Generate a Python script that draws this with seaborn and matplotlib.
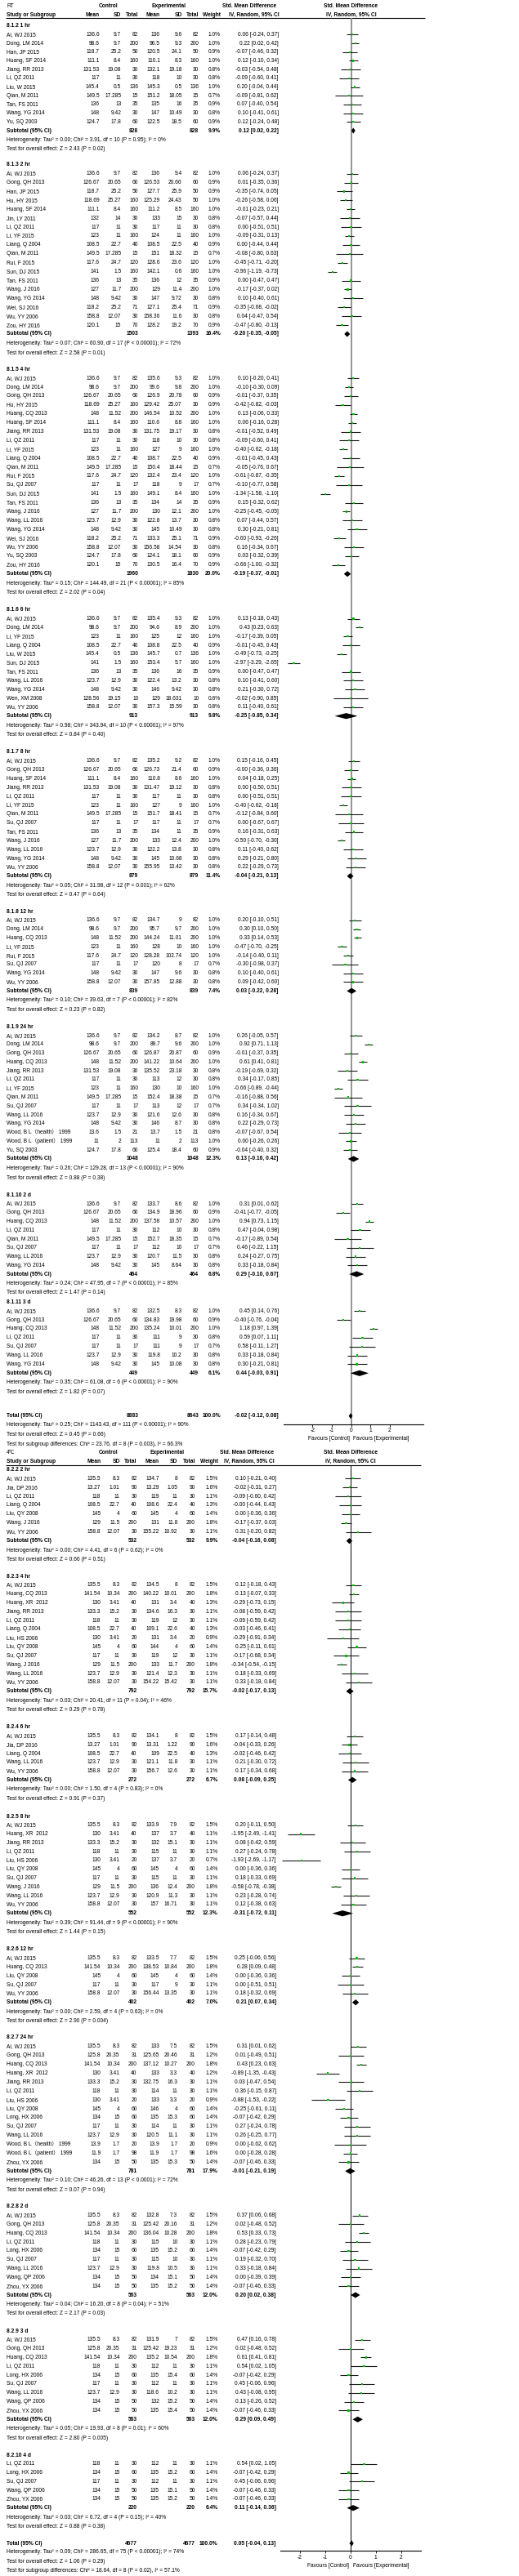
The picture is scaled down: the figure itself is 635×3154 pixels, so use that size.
import matplotlib
matplotlib.use("Agg")
import matplotlib.pyplot as plt
import seaborn as sns
import pandas as pd
from matplotlib import font_manager

# Style
sns.set_style("white")
names = {f.name for f in font_manager.fontManager.ttflist}
if "Liberation Sans Narrow" in names:
    base_font = "Liberation Sans Narrow"
else:
    base_font = "Liberation Sans"
plt.rcParams["font.family"] = [base_font, "Noto Sans CJK SC", "DejaVu Sans"]
plt.rcParams["axes.unicode_minus"] = False

### RT data (one inner list per subgroup) ###
rt_groups = ["8.1.2 1 hr", "8.1.3 2 hr", "8.1.5 4 hr", "8.1.6 6 hr", "8.1.7 8 hr",
             "8.1.8 12 hr", "8.1.9 24 hr", "8.1.10 2 d", "8.1.11 3 d"]
rt_study = [
    ["Ai, WJ 2015", "Dong, LM 2014", "Han, JP 2015", "Huang, SF 2014", "Jiang, RR 2013", "Li, QZ 2011",
     "Liu, W 2015", "Qian, M 2011", "Tan, FS 2011", "Wang, YG 2014", "Yu, SQ 2003"],
    ["Ai, WJ 2015", "Gong, QH 2013", "Han, JP 2015", "Hu, HY 2015", "Huang, SF 2014", "Jin, LY 2011",
     "Li, QZ 2011", "Li, YF 2015", "Liang, Q 2004", "Qian, M 2011", "Rui, F 2015", "Sun, DJ 2015",
     "Tan, FS 2011", "Wang, J 2016", "Wang, YG 2014", "Wei, SJ 2016", "Wu, YY 2006", "Zou, HY 2016"],
    ["Ai, WJ 2015", "Dong, LM 2014", "Gong, QH 2013", "Hu, HY 2015", "Huang, CQ 2013", "Huang, SF 2014",
     "Jiang, RR 2013", "Li, QZ 2011", "Li, YF 2015", "Liang, Q 2004", "Qian, M 2011", "Rui, F 2015",
     "Su, QJ 2007", "Sun, DJ 2015", "Tan, FS 2011", "Wang, J 2016", "Wang, LL 2016", "Wang, YG 2014",
     "Wei, SJ 2016", "Wu, YY 2006", "Yu, SQ 2003", "Zou, HY 2016"],
    ["Ai, WJ 2015", "Dong, LM 2014", "Li, YF 2015", "Liang, Q 2004", "Liu, W 2015", "Sun, DJ 2015",
     "Tan, FS 2011", "Wang, LL 2016", "Wang, YG 2014", "Wen, XM 2008", "Wu, YY 2006"],
    ["Ai, WJ 2015", "Gong, QH 2013", "Huang, SF 2014", "Jiang, RR 2013", "Li, QZ 2011", "Li, YF 2015",
     "Qian, M 2011", "Su, QJ 2007", "Tan, FS 2011", "Wang, J 2016", "Wang, LL 2016", "Wang, YG 2014",
     "Wu, YY 2006"],
    ["Ai, WJ 2015", "Dong, LM 2014", "Huang, CQ 2013", "Li, YF 2015", "Rui, F 2015", "Su, QJ 2007",
     "Wang, YG 2014", "Wu, YY 2006"],
    ["Ai, WJ 2015", "Dong, LM 2014", "Gong, QH 2013", "Huang, CQ 2013", "Jiang, RR 2013", "Li, QZ 2011",
     "Li, YF 2015", "Qian, M 2011", "Su, QJ 2007", "Wang, LL 2016", "Wang, YG 2014",
     "Wood, B L（health） 1999", "Wood, B L（patient） 1999", "Yu, SQ 2003"],
    ["Ai, WJ 2015", "Gong, QH 2013", "Huang, CQ 2013", "Li, QZ 2011", "Qian, M 2011", "Su, QJ 2007",
     "Wang, LL 2016", "Wang, YG 2014"],
    ["Ai, WJ 2015", "Gong, QH 2013", "Huang, CQ 2013", "Li, QZ 2011", "Su, QJ 2007", "Wang, LL 2016",
     "Wang, YG 2014"],
]
rt_c_mean = [
    [136.6, 98.6, 118.7, 111.1, 131.53, 117, 145.4, 149.5, 136, 148, 124.7],
    [136.6, 126.67, 118.7, 118.69, 111.1, 132, 117, 123, 108.5, 149.5, 117.6, 141, 136, 127, 148, 118.2, 158.8, 120.1],
    [136.6, 98.6, 126.67, 118.69, 148, 111.1, 131.53, 117, 123, 108.5, 149.5, 117.6, 117, 141, 136, 127, 123.7, 148, 118.2, 158.8, 124.7, 120.1],
    [136.6, 98.6, 123, 108.5, 145.4, 141, 136, 123.7, 148, 128.56, 158.8],
    [136.6, 126.67, 111.1, 131.53, 117, 123, 149.5, 117, 136, 127, 123.7, 148, 158.8],
    [136.6, 98.6, 148, 123, 117.6, 117, 148, 158.8],
    [136.6, 98.6, 126.67, 148, 131.53, 117, 123, 149.5, 117, 123.7, 148, 13.6, 11, 124.7],
    [136.6, 126.67, 148, 117, 149.5, 117, 123.7, 148],
    [136.6, 126.67, 148, 117, 117, 123.7, 148],
]
rt_c_sd = [
    [9.7, 9.7, 25.2, 8.4, 19.08, 11, 0.5, 17.285, 13, 9.42, 17.8],
    [9.7, 20.65, 25.2, 25.27, 8.4, 14, 11, 11, 22.7, 17.285, 24.7, 1.5, 13, 11.7, 9.42, 25.2, 12.07, 15],
    [9.7, 9.7, 20.65, 25.27, 11.52, 8.4, 19.08, 11, 11, 22.7, 17.285, 24.7, 11, 1.5, 13, 11.7, 12.9, 9.42, 25.2, 12.07, 17.8, 15],
    [9.7, 9.7, 11, 22.7, 0.5, 1.5, 13, 12.9, 9.42, 19.15, 12.07],
    [9.7, 20.65, 8.4, 19.08, 11, 11, 17.285, 11, 13, 11.7, 12.9, 9.42, 12.07],
    [9.7, 9.7, 11.52, 11, 24.7, 11, 9.42, 12.07],
    [9.7, 9.7, 20.65, 11.52, 19.08, 11, 11, 17.285, 11, 12.9, 9.42, 1.5, 2, 17.8],
    [9.7, 20.65, 11.52, 11, 17.285, 11, 12.9, 9.42],
    [9.7, 20.65, 11.52, 11, 11, 12.9, 9.42],
]
rt_c_n = [
    [82, 200, 50, 160, 30, 30, 136, 15, 35, 30, 60],
    [82, 60, 50, 160, 160, 30, 30, 160, 40, 15, 120, 160, 35, 200, 30, 71, 30, 70],
    [82, 200, 60, 160, 200, 160, 30, 30, 160, 40, 15, 120, 17, 160, 35, 200, 30, 30, 71, 30, 60, 70],
    [82, 200, 160, 40, 136, 160, 35, 30, 30, 10, 30],
    [82, 60, 160, 30, 30, 160, 15, 17, 35, 200, 30, 30, 30],
    [82, 200, 200, 160, 120, 17, 30, 30],
    [82, 200, 60, 200, 30, 30, 160, 15, 17, 30, 30, 21, 113, 60],
    [82, 60, 200, 30, 15, 17, 30, 30],
    [82, 60, 200, 30, 17, 30, 30],
]
rt_e_mean = [
    [136, 96.5, 120.5, 110.1, 132.1, 118, 145.3, 151.2, 135, 147, 122.5],
    [136, 126.53, 127.7, 125.29, 111.2, 133, 117, 124, 108.5, 151, 128.6, 142.1, 136, 129, 147, 127.1, 158.36, 128.2],
    [135.6, 99.6, 126.9, 129.42, 146.54, 110.6, 131.75, 118, 127, 108.7, 150.4, 132.4, 118, 149.1, 134, 130, 122.8, 145, 133.3, 156.58, 124.1, 130.5],
    [135.4, 94.6, 125, 108.8, 145.7, 153.4, 136, 122.4, 146, 129, 157.3],
    [135.2, 126.73, 110.8, 131.47, 117, 127, 151.7, 117, 134, 133, 122.2, 145, 155.95],
    [134.7, 95.7, 144.24, 128, 128.28, 120, 147, 157.85],
    [134.2, 89.7, 126.87, 141.22, 135.52, 113, 130, 152.4, 113, 121.6, 146, 13.7, 11, 125.4],
    [133.7, 134.9, 137.58, 112, 152.7, 112, 120.7, 145],
    [132.5, 134.83, 135.24, 111, 111, 119.8, 145],
]
rt_e_sd = [
    [9.6, 9.3, 24.1, 8.3, 19.18, 10, 0.5, 18.05, 16, 10.49, 18.5],
    [9.4, 20.66, 25.9, 24.43, 8.5, 15, 11, 11, 22.5, 18.32, 23.6, 0.6, 12, 11.4, 9.72, 25.4, 11.6, 19.2],
    [9.3, 9.8, 20.78, 25.07, 10.52, 8.8, 19.17, 10, 9, 22.5, 18.44, 23.4, 9, 8.4, 14, 12.1, 13.7, 10.49, 25.1, 14.54, 18.1, 16.4],
    [9.3, 8.9, 12, 22.5, 0.7, 5.7, 16, 13.2, 9.42, 18.631, 15.59],
    [9.2, 21.4, 8.6, 19.12, 11, 9, 18.41, 11, 11, 12.4, 13.8, 10.68, 13.42],
    [9, 9.7, 11.01, 10, 102.74, 8, 9.6, 12.88],
    [8.7, 9.6, 20.87, 10.64, 23.18, 12, 10, 18.38, 12, 12.6, 8.7, 1.5, 2, 18.4],
    [8.6, 18.96, 10.57, 10, 18.35, 10, 11.5, 8.64],
    [8.3, 19.98, 10.01, 9, 9, 10.2, 10.08],
]
rt_e_n = [
    [82, 200, 50, 160, 30, 30, 136, 15, 35, 30, 60],
    [82, 60, 50, 50, 160, 30, 30, 160, 40, 15, 120, 160, 35, 200, 30, 71, 30, 70],
    [82, 200, 60, 30, 200, 160, 30, 30, 160, 40, 15, 120, 17, 160, 35, 200, 30, 30, 71, 30, 60, 70],
    [82, 200, 160, 40, 136, 160, 35, 30, 30, 10, 30],
    [82, 60, 160, 30, 30, 160, 15, 17, 35, 200, 30, 30, 30],
    [82, 200, 200, 160, 120, 17, 30, 30],
    [82, 200, 60, 200, 30, 30, 160, 15, 17, 30, 30, 21, 113, 60],
    [82, 60, 200, 30, 15, 17, 30, 30],
    [82, 60, 200, 30, 17, 30, 30],
]
rt_weight = [
    [1.0, 1.0, 0.9, 1.0, 0.8, 0.8, 1.0, 0.7, 0.9, 0.8, 0.9],
    [1.0, 0.9, 0.9, 1.0, 1.0, 0.8, 0.8, 1.0, 0.9, 0.7, 1.0, 1.0, 0.9, 1.0, 0.8, 0.9, 0.8, 0.9],
    [1.0, 1.0, 0.9, 0.9, 1.0, 1.0, 0.8, 0.8, 1.0, 0.9, 0.7, 1.0, 0.7, 1.0, 0.9, 1.0, 0.8, 0.8, 0.9, 0.8, 0.9, 0.9],
    [1.0, 1.0, 1.0, 0.9, 1.0, 1.0, 0.9, 0.8, 0.8, 0.6, 0.8],
    [1.0, 0.9, 1.0, 0.8, 0.8, 1.0, 0.7, 0.7, 0.9, 1.0, 0.8, 0.8, 0.8],
    [1.0, 1.0, 1.0, 1.0, 1.0, 0.7, 0.8, 0.8],
    [1.0, 1.0, 0.9, 1.0, 0.8, 0.8, 1.0, 0.7, 0.7, 0.8, 0.8, 0.8, 1.0, 0.9],
    [1.0, 0.9, 1.0, 0.8, 0.7, 0.7, 0.8, 0.8],
    [1.0, 0.9, 1.0, 0.8, 0.7, 0.8, 0.8],
]
rt_smd = [
    [0.06, 0.22, -0.07, 0.12, -0.03, -0.09, 0.20, -0.09, 0.07, 0.10, 0.12],
    [0.06, 0.01, -0.35, -0.26, -0.01, -0.07, 0.00, -0.09, 0.00, -0.08, -0.45, -0.96, 0.00, -0.17, 0.10, -0.35, 0.04, -0.47],
    [0.10, -0.10, -0.01, -0.42, 0.13, 0.06, -0.01, -0.09, -0.40, -0.01, -0.05, -0.61, -0.10, -1.34, 0.15, -0.25, 0.07, 0.30, -0.60, 0.16, 0.03, -0.66],
    [0.13, 0.43, -0.17, -0.01, -0.49, -2.97, 0.00, 0.10, 0.21, -0.02, 0.11],
    [0.15, -0.0, 0.04, 0.00, 0.00, -0.40, -0.12, 0.00, 0.16, -0.50, 0.11, 0.29, 0.22],
    [0.20, 0.30, 0.33, -0.47, -0.14, -0.30, 0.10, 0.09],
    [0.26, 0.92, -0.01, 0.61, -0.19, 0.34, -0.66, -0.16, 0.34, 0.16, 0.22, -0.07, 0.00, -0.04],
    [0.31, -0.41, 0.94, 0.47, -0.17, 0.46, 0.24, 0.33],
    [0.45, -0.40, 1.18, 0.59, 0.58, 0.33, 0.30],
]
rt_lo = [
    [-0.24, 0.02, -0.46, -0.10, -0.54, -0.60, -0.04, -0.81, -0.40, -0.41, -0.24],
    [-0.24, -0.35, -0.74, -0.58, -0.23, -0.57, -0.51, -0.31, -0.44, -0.80, -0.71, -1.19, -0.47, -0.37, -0.40, -0.68, -0.47, -0.80],
    [-0.20, -0.30, -0.37, -0.82, -0.06, -0.16, -0.52, -0.60, -0.62, -0.45, -0.76, -0.87, -0.77, -1.58, -0.32, -0.45, -0.44, -0.21, -0.93, -0.34, -0.32, -1.00],
    [-0.18, 0.23, -0.39, -0.45, -0.73, -3.29, -0.47, -0.41, -0.30, -0.90, -0.40],
    [-0.16, -0.36, -0.18, -0.50, -0.51, -0.62, -0.84, -0.67, -0.31, -0.70, -0.40, -0.21, -0.29],
    [-0.10, 0.10, 0.14, -0.70, -0.40, -0.98, -0.40, -0.42],
    [-0.05, 0.71, -0.37, 0.41, -0.69, -0.17, -0.89, -0.88, -0.34, -0.34, -0.29, -0.67, -0.26, -0.40],
    [0.01, -0.77, 0.73, -0.04, -0.89, -0.22, -0.27, -0.18],
    [0.14, -0.76, 0.97, 0.07, -0.11, -0.18, -0.21],
]
rt_hi = [
    [0.37, 0.42, 0.32, 0.34, 0.48, 0.41, 0.44, 0.62, 0.54, 0.61, 0.48],
    [0.37, 0.36, 0.05, 0.06, 0.21, 0.44, 0.51, 0.13, 0.44, 0.63, -0.20, -0.73, 0.47, 0.02, 0.61, -0.02, 0.54, -0.13],
    [0.41, 0.09, 0.35, -0.03, 0.33, 0.28, 0.49, 0.41, -0.18, 0.43, 0.67, -0.35, 0.58, -1.10, 0.62, -0.05, 0.57, 0.81, -0.26, 0.67, 0.39, -0.32],
    [0.43, 0.63, 0.05, 0.43, -0.25, -2.65, 0.47, 0.60, 0.72, 0.85, 0.61],
    [0.45, 0.36, 0.25, 0.51, 0.51, -0.18, 0.60, 0.67, 0.63, -0.30, 0.62, 0.80, 0.73],
    [0.51, 0.50, 0.53, -0.25, 0.11, 0.37, 0.61, 0.60],
    [0.57, 1.13, 0.35, 0.81, 0.32, 0.85, -0.44, 0.56, 1.02, 0.67, 0.73, 0.54, 0.26, 0.32],
    [0.62, -0.05, 1.15, 0.98, 0.54, 1.15, 0.75, 0.84],
    [0.76, -0.04, 1.39, 1.11, 1.27, 0.84, 0.81],
]
rt_sub_c_n = [828, 1503, 1960, 913, 879, 839, 1048, 464, 449]
rt_sub_e_n = [828, 1393, 1830, 913, 879, 839, 1048, 464, 449]
rt_sub_weight = [9.9, 16.4, 20.0, 9.8, 11.4, 7.4, 12.3, 6.8, 6.1]
rt_sub_smd = [0.12, -0.20, -0.19, -0.25, -0.04, 0.03, 0.13, 0.29, 0.44]
rt_sub_lo = [0.02, -0.35, -0.37, -0.85, -0.21, -0.22, -0.16, -0.10, -0.03]
rt_sub_hi = [0.22, -0.05, -0.01, 0.34, 0.13, 0.28, 0.42, 0.67, 0.91]
rt_het = [
    "Heterogeneity: Tau² = 0.00; Chi² = 3.91, df = 10 (P = 0.95); I² = 0%",
    "Heterogeneity: Tau² = 0.07; Chi² = 60.90, df = 17 (P < 0.00001); I² = 72%",
    "Heterogeneity: Tau² = 0.15; Chi² = 144.49, df = 21 (P < 0.00001); I² = 85%",
    "Heterogeneity: Tau² = 0.98; Chi² = 343.94, df = 10 (P < 0.00001); I² = 97%",
    "Heterogeneity: Tau² = 0.05; Chi² = 31.98, df = 12 (P = 0.001); I² = 62%",
    "Heterogeneity: Tau² = 0.10; Chi² = 39.63, df = 7 (P < 0.00001); I² = 82%",
    "Heterogeneity: Tau² = 0.26; Chi² = 129.28, df = 13 (P < 0.00001); I² = 90%",
    "Heterogeneity: Tau² = 0.24; Chi² = 47.95, df = 7 (P < 0.00001); I² = 85%",
    "Heterogeneity: Tau² = 0.35; Chi² = 61.08, df = 6 (P < 0.00001); I² = 90%",
]
rt_test = ["Test for overall effect: Z = 2.43 (P = 0.02)", "Test for overall effect: Z = 2.58 (P = 0.01)",
           "Test for overall effect: Z = 2.02 (P = 0.04)", "Test for overall effect: Z = 0.84 (P = 0.40)",
           "Test for overall effect: Z = 0.47 (P = 0.64)", "Test for overall effect: Z = 0.23 (P = 0.82)",
           "Test for overall effect: Z = 0.88 (P = 0.38)", "Test for overall effect: Z = 1.47 (P = 0.14)",
           "Test for overall effect: Z = 1.82 (P = 0.07)"]
rt_total = [8883, 8643, 100.0, -0.02, -0.12, 0.08]
rt_foot = ["Heterogeneity: Tau² = 0.25; Chi² = 1143.43, df = 111 (P < 0.00001); I² = 90%",
           "Test for overall effect: Z = 0.45 (P = 0.66)",
           "Test for subgroup differences: Chi² = 23.76, df = 8 (P = 0.003), I² = 66.3%"]

### 4 degree data ###
ct_groups = ["8.2.2 2 hr", "8.2.3 4 hr", "8.2.4 6 hr", "8.2.5 8 hr", "8.2.6 12 hr",
             "8.2.7 24 hr", "8.2.8 2 d", "8.2.9 3 d", "8.2.10 4 d"]
ct_study = [
    ["Ai, WJ 2015", "Jia, DP 2016", "Li, QZ 2011", "Liang, Q 2004", "Liu, QY 2008", "Wang, J 2016", "Wu, YY 2006"],
    ["Ai, WJ 2015", "Huang, CQ 2013", "Huang, XR  2012", "Jiang, RR 2013", "Li, QZ 2011", "Liang, Q 2004",
     "Liu, HS 2006", "Liu, QY 2008", "Su, QJ 2007", "Wang, J 2016", "Wang, LL 2016", "Wu, YY 2006"],
    ["Ai, WJ 2015", "Jia, DP 2016", "Liang, Q 2004", "Wang, LL 2016", "Wu, YY 2006"],
    ["Ai, WJ 2015", "Huang, XR  2012", "Jiang, RR 2013", "Li, QZ 2011", "Liu, HS 2006", "Liu, QY 2008",
     "Su, QJ 2007", "Wang, J 2016", "Wang, LL 2016", "Wu, YY 2006"],
    ["Ai, WJ 2015", "Huang, CQ 2013", "Liu, QY 2008", "Su, QJ 2007", "Wu, YY 2006"],
    ["Ai, WJ 2015", "Gong, QH 2013", "Huang, CQ 2013", "Huang, XR  2012", "Jiang, RR 2013", "Li, QZ 2011",
     "Liu, HS 2006", "Liu, QY 2008", "Long, HX 2006", "Su, QJ 2007", "Wang, LL 2016",
     "Wood, B L（health） 1999", "Wood, B L（patient） 1999", "Zhou, YX 2006"],
    ["Ai, WJ 2015", "Gong, QH 2013", "Huang, CQ 2013", "Li, QZ 2011", "Long, HX 2006", "Su, QJ 2007",
     "Wang, LL 2016", "Wang, QP 2006", "Zhou, YX 2006"],
    ["Ai, WJ 2015", "Gong, QH 2013", "Huang, CQ 2013", "Li, QZ 2011", "Long, HX 2006", "Su, QJ 2007",
     "Wang, LL 2016", "Wang, QP 2006", "Zhou, YX 2006"],
    ["Li, QZ 2011", "Long, HX 2006", "Su, QJ 2007", "Wang, QP 2006", "Zhou, YX 2006"],
]
ct_c_mean = [
    [135.5, 13.27, 118, 108.5, 145, 129, 158.8],
    [135.5, 141.54, 130, 133.3, 118, 108.5, 130, 145, 117, 129, 123.7, 158.8],
    [135.5, 13.27, 108.5, 123.7, 158.8],
    [135.5, 130, 133.3, 118, 130, 145, 117, 129, 123.7, 158.8],
    [135.5, 141.54, 145, 117, 158.8],
    [135.5, 125.8, 141.54, 130, 133.3, 118, 130, 145, 134, 117, 123.7, 13.9, 11.9, 134],
    [135.5, 125.8, 141.54, 118, 134, 117, 123.7, 134, 134],
    [135.5, 125.8, 141.54, 118, 134, 117, 123.7, 134, 134],
    [118, 134, 117, 134, 134],
]
ct_c_sd = [
    [8.3, 1.01, 11, 22.7, 4, 11.5, 12.07],
    [8.3, 10.34, 3.41, 15.2, 11, 22.7, 3.41, 4, 11, 11.5, 12.9, 12.07],
    [8.3, 1.01, 22.7, 12.9, 12.07],
    [8.3, 3.41, 15.2, 11, 3.41, 4, 11, 11.5, 12.9, 12.07],
    [8.3, 10.34, 4, 11, 12.07],
    [8.3, 20.35, 10.34, 3.41, 15.2, 11, 3.41, 4, 15, 11, 12.9, 1.7, 1.7, 15],
    [8.3, 20.35, 10.34, 11, 15, 11, 12.9, 15, 15],
    [8.3, 20.35, 10.34, 11, 15, 11, 12.9, 15, 15],
    [11, 15, 11, 15, 15],
]
ct_c_n = [
    [82, 90, 30, 40, 60, 200, 30],
    [82, 200, 40, 30, 30, 40, 20, 60, 30, 200, 30, 30],
    [82, 90, 40, 30, 30],
    [82, 40, 30, 30, 20, 60, 30, 200, 30, 30],
    [82, 200, 60, 30, 30],
    [82, 31, 200, 40, 30, 30, 20, 60, 60, 30, 30, 20, 98, 50],
    [82, 31, 200, 30, 60, 30, 30, 50, 50],
    [82, 31, 200, 30, 60, 30, 30, 50, 50],
    [30, 60, 30, 50, 50],
]
ct_e_mean = [
    [134.7, 13.29, 119, 108.6, 145, 131, 155.22],
    [134.5, 140.22, 131, 134.6, 119, 109.1, 131, 144, 119, 133, 121.4, 154.22],
    [134.1, 13.31, 109, 121.1, 156.7],
    [133.9, 137, 132, 115, 137, 145, 115, 136, 120.9, 157],
    [133.5, 138.53, 145, 117, 156.44],
    [133, 125.65, 137.12, 133, 132.75, 114, 133, 146, 135, 114, 120.5, 13.9, 11.9, 135],
    [132.8, 125.42, 136.04, 115, 135, 115, 119.8, 134, 135],
    [131.9, 125.42, 135.2, 112, 135, 112, 118.6, 132, 135],
    [112, 135, 112, 135, 135],
]
ct_e_sd = [
    [8, 1.05, 11, 22.4, 4, 11.8, 10.92],
    [8, 10.01, 3.4, 16.3, 12, 22.6, 3.4, 4, 12, 11.7, 12.3, 15.42],
    [8, 1.22, 22.5, 11.8, 12.6],
    [7.9, 3.7, 15.1, 11, 3.7, 4, 11, 12.4, 11.3, 16.71],
    [7.7, 10.84, 4, 9, 13.35],
    [7.5, 20.46, 10.27, 3.3, 16.3, 11, 3.3, 4, 15.3, 11, 11.1, 1.7, 1.7, 15.3],
    [7.3, 20.16, 10.28, 10, 15.2, 10, 10.5, 15.1, 15.2],
    [7, 19.23, 10.54, 11, 15.4, 11, 10.2, 15.2, 15.4],
    [11, 15.2, 11, 15.1, 15.2],
]
ct_e_n = ct_c_n
ct_weight = [
    [1.5, 1.6, 1.1, 1.3, 1.4, 1.8, 1.1],
    [1.5, 1.8, 1.3, 1.1, 1.1, 1.3, 0.9, 1.4, 1.1, 1.8, 1.1, 1.1],
    [1.5, 1.6, 1.3, 1.1, 1.1],
    [1.5, 1.1, 1.1, 1.1, 0.7, 1.4, 1.1, 1.8, 1.1, 1.1],
    [1.5, 1.8, 1.4, 1.1, 1.1],
    [1.5, 1.2, 1.8, 1.2, 1.1, 1.1, 0.9, 1.4, 1.4, 1.1, 1.1, 0.9, 1.6, 1.4],
    [1.5, 1.2, 1.8, 1.1, 1.4, 1.1, 1.1, 1.4, 1.4],
    [1.5, 1.2, 1.8, 1.1, 1.4, 1.1, 1.1, 1.4, 1.4],
    [1.1, 1.4, 1.1, 1.4, 1.4],
]
ct_smd = [
    [0.10, -0.02, -0.09, -0.0, 0.00, -0.17, 0.31],
    [0.12, 0.13, -0.29, -0.08, -0.09, -0.03, -0.29, 0.25, -0.17, -0.34, 0.18, 0.33],
    [0.17, -0.04, -0.02, 0.21, 0.17],
    [0.20, -1.95, 0.08, 0.27, -1.93, 0.00, 0.18, -0.58, 0.23, 0.12],
    [0.25, 0.28, 0.00, 0.00, 0.18],
    [0.31, 0.01, 0.43, -0.89, 0.03, 0.36, -0.88, -0.25, -0.07, 0.27, 0.26, 0.00, 0.00, -0.07],
    [0.37, 0.02, 0.53, 0.28, -0.07, 0.19, 0.33, 0.00, -0.07],
    [0.47, 0.02, 0.61, 0.54, -0.07, 0.45, 0.43, 0.13, -0.07],
    [0.54, -0.07, 0.45, -0.07, -0.07],
]
ct_lo = [
    [-0.21, -0.31, -0.60, -0.44, -0.36, -0.37, -0.20],
    [-0.18, -0.07, -0.73, -0.59, -0.59, -0.46, -0.91, -0.11, -0.68, -0.54, -0.33, -0.18],
    [-0.14, -0.33, -0.46, -0.30, -0.34],
    [-0.11, -2.49, -0.42, -0.24, -2.69, -0.36, -0.33, -0.78, -0.28, -0.38],
    [-0.06, 0.09, -0.36, -0.51, -0.32],
    [0.01, -0.49, 0.23, -1.35, -0.47, -0.15, -1.53, -0.61, -0.42, -0.24, -0.25, -0.62, -0.28, -0.46],
    [0.06, -0.48, 0.33, -0.23, -0.42, -0.32, -0.18, -0.39, -0.46],
    [0.16, -0.48, 0.41, 0.02, -0.42, -0.06, -0.08, -0.26, -0.46],
    [0.02, -0.42, -0.06, -0.46, -0.46],
]
ct_hi = [
    [0.40, 0.27, 0.42, 0.43, 0.36, 0.03, 0.82],
    [0.43, 0.33, 0.15, 0.42, 0.42, 0.41, 0.34, 0.61, 0.34, -0.15, 0.69, 0.84],
    [0.48, 0.26, 0.42, 0.72, 0.68],
    [0.50, -1.41, 0.59, 0.78, -1.17, 0.36, 0.69, -0.38, 0.74, 0.63],
    [0.56, 0.48, 0.36, 0.51, 0.69],
    [0.62, 0.51, 0.63, -0.43, 0.54, 0.87, -0.22, 0.11, 0.29, 0.78, 0.77, 0.62, 0.28, 0.33],
    [0.68, 0.52, 0.73, 0.79, 0.29, 0.70, 0.84, 0.39, 0.33],
    [0.78, 0.52, 0.81, 1.05, 0.29, 0.96, 0.95, 0.52, 0.33],
    [1.05, 0.29, 0.96, 0.33, 0.33],
]
ct_sub_c_n = [532, 792, 272, 552, 402, 781, 563, 563, 220]
ct_sub_e_n = [532, 792, 272, 552, 402, 781, 563, 563, 220]
ct_sub_weight = [9.9, 15.7, 6.7, 12.3, 7.0, 17.9, 12.0, 12.0, 6.4]
ct_sub_smd = [-0.04, -0.02, 0.08, -0.31, 0.21, -0.01, 0.20, 0.29, 0.11]
ct_sub_lo = [-0.16, -0.17, -0.09, -0.72, 0.07, -0.21, 0.02, 0.09, -0.14]
ct_sub_hi = [0.08, 0.13, 0.25, 0.11, 0.34, 0.19, 0.38, 0.49, 0.36]
ct_het = [
    "Heterogeneity: Tau² = 0.00; Chi² = 4.41, df = 6 (P = 0.62); I² = 0%",
    "Heterogeneity: Tau² = 0.03; Chi² = 20.41, df = 11 (P = 0.04); I² = 46%",
    "Heterogeneity: Tau² = 0.00; Chi² = 1.50, df = 4 (P = 0.83); I² = 0%",
    "Heterogeneity: Tau² = 0.39; Chi² = 91.44, df = 9 (P < 0.00001); I² = 90%",
    "Heterogeneity: Tau² = 0.00; Chi² = 2.59, df = 4 (P = 0.63); I² = 0%",
    "Heterogeneity: Tau² = 0.10; Chi² = 46.26, df = 13 (P < 0.0001); I² = 72%",
    "Heterogeneity: Tau² = 0.04; Chi² = 16.20, df = 8 (P = 0.04); I² = 51%",
    "Heterogeneity: Tau² = 0.05; Chi² = 19.93, df = 8 (P = 0.01); I² = 60%",
    "Heterogeneity: Tau² = 0.03; Chi² = 6.72, df = 4 (P = 0.15); I² = 40%",
]
ct_test = ["Test for overall effect: Z = 0.66 (P = 0.51)", "Test for overall effect: Z = 0.29 (P = 0.78)",
           "Test for overall effect: Z = 0.91 (P = 0.37)", "Test for overall effect: Z = 1.44 (P = 0.15)",
           "Test for overall effect: Z = 2.90 (P = 0.004)", "Test for overall effect: Z = 0.07 (P = 0.94)",
           "Test for overall effect: Z = 2.17 (P = 0.03)", "Test for overall effect: Z = 2.80 (P = 0.005)",
           "Test for overall effect: Z = 0.88 (P = 0.38)"]
ct_total = [4677, 4677, 100.0, 0.05, -0.04, 0.13]
ct_foot = ["Heterogeneity: Tau² = 0.09; Chi² = 286.65, df = 75 (P < 0.00001); I² = 74%",
           "Test for overall effect: Z = 1.06 (P = 0.29)",
           "Test for subgroup differences: Chi² = 18.64, df = 8 (P = 0.02), I² = 57.1%"]

ticks = [-2, -1, 0, 1, 2]

### Layout (pixel positions in a 635 x 3154 canvas) ###
W, H = 635, 3154
rt_layout = dict(
    title="RT", title_y=7.3, head2_y=18.3, rule_y=22, rule_x=(7, 520),
    group_y=[31.7, 201.7, 452.3, 746.7, 921, 1116, 1257.3, 1463.3, 1594.3],
    sub_y=[160, 409, 702.7, 876.7, 1072.7, 1213.3, 1419, 1560, 1681.3],
    total_y=1733.7, foot_dy=[11.3, 23, 35.3],
    cols=[121.7, 148.3, 169.3, 196, 222.7, 243.3, 270, 340.7],
    hdr=dict(control=132.5, exp=206, smd=305, ivr=310.5, plot=429.5),
    ax_l=346.7, ax_r=518.3, ax_t=22, ax_b=1743.7, zero=429.5, ppu=23.58,
    zero_color="#8a8a8a", zero_lw=1.3, fav_y=1761.7)
ct_layout = dict(
    title="4℃", title_y=1778.3, head2_y=1789.3, rule_y=1794.3, rule_x=(7, 515),
    group_y=[1799.3, 1930, 2115, 2224, 2386.7, 2495, 2701.7, 2854, 3006],
    sub_y=[1886.7, 2070.7, 2179.3, 2342.7, 2451.7, 2658.3, 2810, 2962.3, 3070.7],
    total_y=3114, foot_dy=[11, 22.7, 33.7],
    cols=[123.3, 146.7, 167.7, 195, 217.3, 239, 266.7, 337.7],
    hdr=dict(control=132.5, exp=204.5, smd=302, ivr=305, plot=428.5),
    ax_l=343.3, ax_r=515, ax_t=1794.3, ax_b=3123.3, zero=428.7, ppu=31.0,
    zero_color="black", zero_lw=0.7, fav_y=3141.7)

rt_panel = dict(groups=rt_groups, study=rt_study, c_mean=rt_c_mean, c_sd=rt_c_sd, c_n=rt_c_n,
                e_mean=rt_e_mean, e_sd=rt_e_sd, e_n=rt_e_n, weight=rt_weight, smd=rt_smd,
                lo=rt_lo, hi=rt_hi, sub_c_n=rt_sub_c_n, sub_e_n=rt_sub_e_n, sub_weight=rt_sub_weight,
                sub_smd=rt_sub_smd, sub_lo=rt_sub_lo, sub_hi=rt_sub_hi, het=rt_het, test=rt_test,
                total=rt_total, foot=rt_foot)
ct_panel = dict(groups=ct_groups, study=ct_study, c_mean=ct_c_mean, c_sd=ct_c_sd, c_n=ct_c_n,
                e_mean=ct_e_mean, e_sd=ct_e_sd, e_n=ct_e_n, weight=ct_weight, smd=ct_smd,
                lo=ct_lo, hi=ct_hi, sub_c_n=ct_sub_c_n, sub_e_n=ct_sub_e_n, sub_weight=ct_sub_weight,
                sub_smd=ct_sub_smd, sub_lo=ct_sub_lo, sub_hi=ct_sub_hi, het=ct_het, test=ct_test,
                total=ct_total, foot=ct_foot)

fig = plt.figure(figsize=(W / 100, H / 100), dpi=100)

# pick a font size so the first heterogeneity line is as wide as in the reference (~194 px)
probe = fig.text(0, 0, rt_het[0], fontsize=10)
w_probe = probe.get_window_extent(renderer=fig.canvas.get_renderer()).width
probe.remove()
fs = 10 * 194.0 / w_probe

tax = fig.add_axes([0, 0, 1, 1])
tax.set_xlim(0, W)
tax.set_ylim(H, 0)
tax.axis("off")

LEFT = 8.3


def txt(x, y, s, ha="right", bold=False):
    tax.text(x, y, s, ha=ha, va="center", fontsize=fs,
             fontweight="bold" if bold else "normal", color="black")


def ci_str(m, lo, hi):
    return f"{m:.2f} [{lo:.2f}, {hi:.2f}]"


def draw_panel(p, lay):
    c = lay["cols"]
    h = lay["hdr"]
    y1, y2 = lay["title_y"], lay["head2_y"]
    # column headers
    txt(LEFT, y1, lay["title"], ha="left")
    txt(h["control"], y1, "Control", ha="center", bold=True)
    txt(h["exp"], y1, "Experimental", ha="center", bold=True)
    txt(h["smd"], y1, "Std. Mean Difference", ha="center", bold=True)
    txt(h["plot"], y1, "Std. Mean Difference", ha="center", bold=True)
    txt(LEFT, y2, "Study or Subgroup", ha="left", bold=True)
    for x, s in zip(c[:7], ["Mean", "SD", "Total", "Mean", "SD", "Total", "Weight"]):
        txt(x, y2, s, bold=True)
    txt(h["ivr"], y2, "IV, Random, 95% CI", ha="center", bold=True)
    txt(h["plot"], y2, "IV, Random, 95% CI", ha="center", bold=True)
    tax.hlines(lay["rule_y"], lay["rule_x"][0], lay["rule_x"][1], color="black", lw=0.8)

    rows = []
    for g, name in enumerate(p["groups"]):
        gy, sy = lay["group_y"][g], lay["sub_y"][g]
        n = len(p["study"][g])
        step = (sy - gy) / (n + 1)
        txt(LEFT, gy, name, ha="left", bold=True)
        for i in range(n):
            y = gy + (i + 1) * step
            vals = [f"{p['c_mean'][g][i]:g}", f"{p['c_sd'][g][i]:g}", f"{p['c_n'][g][i]}",
                    f"{p['e_mean'][g][i]:g}", f"{p['e_sd'][g][i]:g}", f"{p['e_n'][g][i]}",
                    f"{p['weight'][g][i]:.1f}%",
                    ci_str(p["smd"][g][i], p["lo"][g][i], p["hi"][g][i])]
            txt(LEFT, y, p["study"][g][i], ha="left")
            for x, s in zip(c, vals):
                txt(x, y, s)
            rows.append(dict(y=y, smd=p["smd"][g][i], lo=p["lo"][g][i], hi=p["hi"][g][i]))
        # subtotal
        txt(LEFT, sy, "Subtotal (95% CI)", ha="left", bold=True)
        txt(c[2], sy, str(p["sub_c_n"][g]), bold=True)
        txt(c[5], sy, str(p["sub_e_n"][g]), bold=True)
        txt(c[6], sy, f"{p['sub_weight'][g]:.1f}%", bold=True)
        txt(c[7], sy, ci_str(p["sub_smd"][g], p["sub_lo"][g], p["sub_hi"][g]), bold=True)
        txt(LEFT, sy + 11.5, p["het"][g], ha="left")
        txt(LEFT, sy + 23, p["test"][g], ha="left")

    # overall total
    ty = lay["total_y"]
    t = p["total"]
    txt(LEFT, ty, "Total (95% CI)", ha="left", bold=True)
    txt(c[2], ty, str(t[0]), bold=True)
    txt(c[5], ty, str(t[1]), bold=True)
    txt(c[6], ty, f"{t[2]:.1f}%", bold=True)
    txt(c[7], ty, ci_str(t[3], t[4], t[5]), bold=True)
    for dy, s in zip(lay["foot_dy"], p["foot"]):
        txt(LEFT, ty + dy, s, ha="left")

    # forest plot axes, data x = SMD, data y = canvas pixel row
    fax = fig.add_axes([lay["ax_l"] / W, 1 - lay["ax_b"] / H,
                        (lay["ax_r"] - lay["ax_l"]) / W, (lay["ax_b"] - lay["ax_t"]) / H])
    fax.patch.set_alpha(0)
    df = pd.DataFrame(rows)
    fax.axvline(0, color=lay["zero_color"], lw=lay["zero_lw"], zorder=1)
    fax.hlines(df["y"], df["lo"], df["hi"], color="#1a1a1a", lw=0.8, zorder=2)
    sns.scatterplot(data=df, x="smd", y="y", marker="s", s=2.5, color="#00c000",
                    edgecolor="none", linewidth=0, legend=False, ax=fax, zorder=3)
    dh = 3.6
    for g in range(len(p["groups"])):
        sy = lay["sub_y"][g]
        fax.fill([p["sub_lo"][g], p["sub_smd"][g], p["sub_hi"][g], p["sub_smd"][g]],
                 [sy, sy - dh, sy, sy + dh], color="black", lw=0, zorder=4)
    fax.fill([t[4], t[3], t[5], t[3]], [ty, ty - dh, ty, ty + dh], color="black", lw=0, zorder=4)

    fax.set_xlim((lay["ax_l"] - lay["zero"]) / lay["ppu"], (lay["ax_r"] - lay["zero"]) / lay["ppu"])
    fax.set_ylim(lay["ax_b"], lay["ax_t"])
    fax.set_xlabel("")
    fax.set_ylabel("")
    fax.set_yticks([])
    fax.set_xticks(ticks)
    fax.set_xticklabels([str(v) for v in ticks])
    fax.tick_params(axis="x", direction="out", length=2.2, width=0.6, pad=1.0,
                    labelsize=fs, colors="black", bottom=True)
    for s in ["left", "right", "top"]:
        fax.spines[s].set_visible(False)
    fax.spines["bottom"].set_color("black")
    fax.spines["bottom"].set_linewidth(0.8)
    fax.grid(False)

    txt(lay["zero"] - 1.8, lay["fav_y"], "Favours [Control]", ha="right")
    txt(lay["zero"] + 3, lay["fav_y"], "Favours [Experimental]", ha="left")


draw_panel(rt_panel, rt_layout)
draw_panel(ct_panel, ct_layout)

fig.savefig("out.png", dpi=100, facecolor="white")
